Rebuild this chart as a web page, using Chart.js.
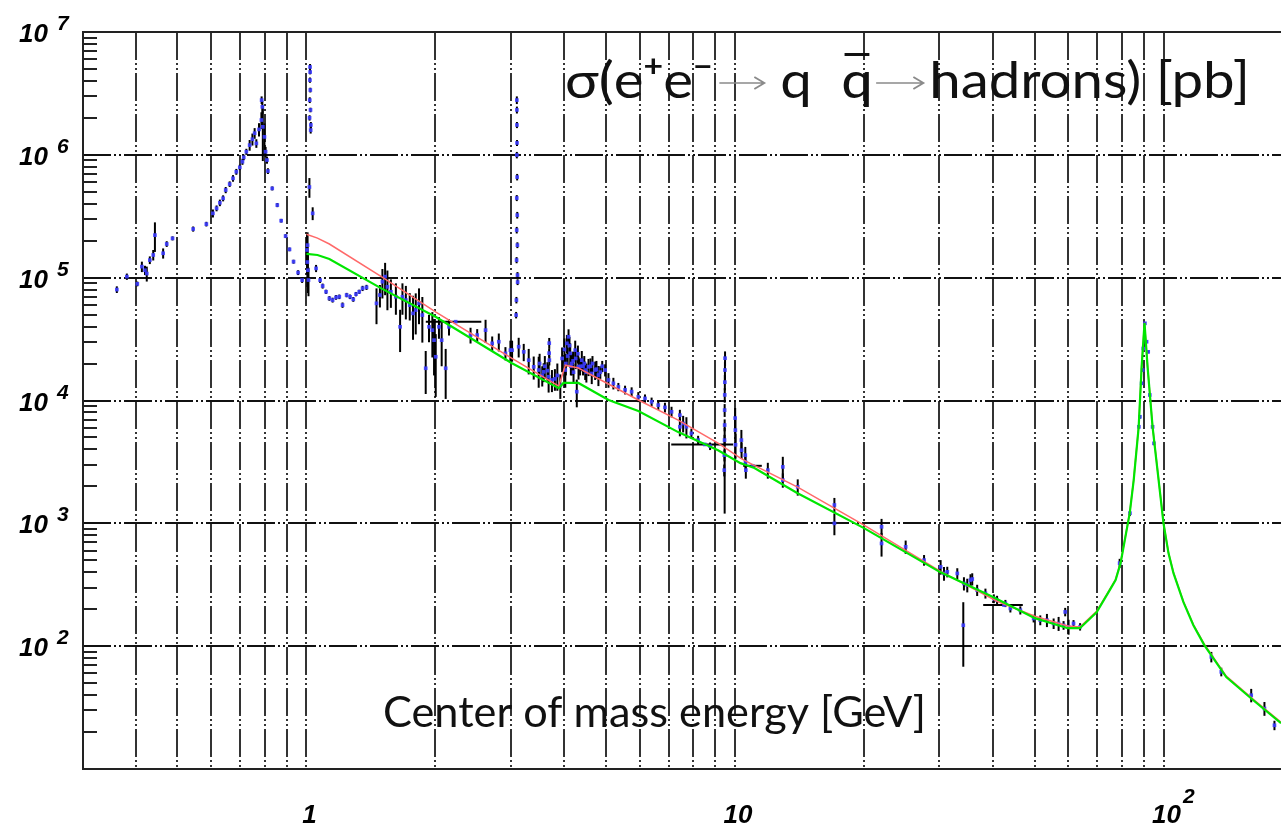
<!DOCTYPE html>
<html>
<head>
<meta charset="utf-8">
<script src="https://cdn.jsdelivr.net/npm/chart.js@4.4.0/dist/chart.umd.min.js"></script>
<style>
  html, body { margin: 0; padding: 0; background: #fff; }
  canvas { display: block; }
</style>
</head>
<body>
<canvas id="xsec" width="1285" height="829"></canvas>
<script>
// ----- measurements: energy [GeV], cross section [pb], error [pb] -----

// rho / omega region
const lowE = [0.361, 0.381, 0.403, 0.413, 0.420, 0.424, 0.431, 0.439, 0.443, 0.463,
  0.472, 0.487, 0.544, 0.584, 0.605, 0.617, 0.628, 0.639, 0.648, 0.662,
  0.674, 0.686, 0.699, 0.709, 0.714, 0.724, 0.737, 0.748, 0.757, 0.764,
  0.775, 0.785, 0.789, 0.786, 0.791, 0.798, 0.803, 0.809, 0.813, 0.832,
  0.855, 0.873, 0.894, 0.913, 0.933, 0.956, 0.977];
const lowSigma = [8.0e4, 1.02e5, 8.9e4, 1.23e5, 1.15e5, 1.08e5, 1.39e5, 1.53e5, 2.22e5, 1.58e5,
  1.88e5, 2.09e5, 2.49e5, 2.73e5, 3.34e5, 3.67e5, 4.07e5, 4.43e5, 5.17e5, 5.78e5,
  6.44e5, 7.28e5, 7.91e5, 8.79e5, 9.54e5, 1.06e6, 1.20e6, 1.34e6, 1.50e6, 1.24e6,
  1.61e6, 1.92e6, 2.46e6, 2.79e6, 1.69e6, 1.40e6, 1.06e6, 9.07e5, 7.38e5, 5.33e5,
  3.90e5, 2.91e5, 2.18e5, 1.70e5, 1.35e5, 1.10e5, 9.56e4];
const lowErr = [5e3, 6e3, 4e3, 1.2e4, 1e4, 1.5e4, 1e4, 1.5e4, 6e4, 1.5e4,
  1e4, 8e3, 1.2e4, 1.2e4, 2.5e4, 2e4, 2.5e4, 2.5e4, 3e4, 3e4,
  4e4, 4e4, 4e4, 5e4, 5e4, 6e4, 1.2e5, 1.5e5, 1.5e5, 1e5,
  2e5, 3e5, 3e5, 2e5, 8e5, 4e5, 1e5, 6e4, 4e4, 2e4,
  1.5e4, 1e4, 8e3, 6e3, 5e3, 5e3, 5e3];

// phi peak
const phiE = [1.003, 1.005, 1.006, 1.008, 1.011, 1.016, 1.017, 1.018, 1.019, 1.0195,
  1.020, 1.021, 1.022, 1.023, 1.024, 1.034];
const phiSigma = [1.68e5, 1.34e5, 1.84e5, 1.15e5, 9.56e4, 5.47e5, 2.0e6, 2.79e6, 4.06e6, 5.19e6,
  4.72e6, 3.37e6, 2.32e6, 1.59e6, 1.75e6, 3.34e5];
const phiErr = [6e4, 5e4, 5e4, 4e4, 2.5e4, 1e5, 1e5, 1.5e5, 2e5, 3e5,
  2e5, 1.5e5, 1e5, 1e5, 1e5, 4e4];

// 1 - 3 GeV
const midE = [1.053, 1.076, 1.091, 1.111, 1.131, 1.151, 1.172, 1.193, 1.214, 1.241,
  1.264, 1.286, 1.305, 1.328, 1.352, 1.381,
  1.457, 1.484, 1.504, 1.526, 1.545, 1.574, 1.617, 1.654, 1.675, 1.706,
  1.742, 1.773, 1.799, 1.831, 1.864, 1.898, 1.932, 1.967, 1.985, 2.003,
  2.038, 2.068, 2.113, 2.151,
  2.415, 2.503, 2.618, 2.713, 2.811, 2.913, 2.992];
const midSigma = [1.19e5, 9.56e4, 8.55e4, 7.68e4, 6.78e4, 6.57e4, 6.91e4, 6.99e4, 5.98e4, 7.22e4,
  6.99e4, 6.66e4, 7.35e4, 7.68e4, 8.18e4, 8.34e4,
  6.18e4, 7.22e4, 9.27e4, 1.02e5, 8.43e4, 7.68e4, 6.99e4, 3.98e4, 6.99e4, 6.57e4,
  5.98e4, 5.12e4, 5.45e4, 6.18e4, 4.96e4, 1.83e4, 3.98e4, 3.74e4, 3.10e4, 2.27e4,
  3.98e4, 3.10e4, 1.83e4, 3.98e4,
  3.41e4, 3.41e4, 3.74e4, 2.92e4, 3.01e4, 2.42e4, 2.57e4];
const midErr = [8e3, 5e3, 4e3, 3e3, 3e3, 3e3, 3e3, 3e3, 3e3, 3e3,
  3e3, 3e3, 3e3, 3e3, 4e3, 4e3,
  2e4, 1.5e4, 2.5e4, 3e4, 3e4, 2e4, 2e4, 1.5e4, 2e4, 2e4,
  1.5e4, 2e4, 2e4, 2e4, 2e4, 7e3, 1e4, 1.5e4, 1.5e4, 1.2e4,
  8e3, 1.2e4, 8e3, 6e3,
  5e3, 4e3, 8e3, 4e3, 5e3, 3e3, 5e3];

// J/psi and psi(2S)
const psiE = [3.085, 3.090, 3.093, 3.095, 3.096, 3.097, 3.097, 3.098, 3.099, 3.100,
  3.102, 3.104, 3.106, 3.108, 3.110, 3.684, 3.686, 3.688];
const psiSigma = [4.96e4, 6.57e4, 1.39e5, 2.44e5, 4.45e5, 9.96e5, 2.79e6, 2.32e6, 1.75e6, 1.25e6,
  6.59e5, 3.23e5, 1.84e5, 1.05e5, 9.2e4, 2.43e4, 2.93e4, 2.13e4];
const psiErr = [3e3, 4e3, 8e3, 1.5e4, 2.5e4, 6e4, 2e5, 1.5e5, 1e5, 7e4,
  4e4, 2e4, 1e4, 6e3, 5e3, 2e3, 3e3, 2e3];

// charm threshold region, 3 - 7.5 GeV
const charmE = [3.019, 3.128, 3.214, 3.301, 3.391, 3.483, 3.50, 3.55, 3.577, 3.60,
  3.65, 3.674, 3.740, 3.80, 3.85, 3.912, 3.95, 4.00, 4.018, 4.03,
  4.053, 4.07, 4.089, 4.11, 4.126, 4.14, 4.161, 4.19, 4.20, 4.238,
  4.25, 4.274, 4.30, 4.314, 4.35, 4.391, 4.42, 4.45, 4.472, 4.50,
  4.551, 4.60, 4.632, 4.65, 4.717, 4.75, 4.801, 4.85, 4.90, 4.977,
  5.067, 5.203, 5.344, 5.540, 5.739, 5.948, 6.166, 6.389, 6.622, 6.864,
  7.111, 7.437];
const charmSigma = [2.57e4, 2.74e4, 2.49e4, 2.13e4, 1.88e4, 1.77e4, 2.0e4, 1.6e4, 1.71e4, 1.9e4,
  1.75e4, 1.56e4, 1.47e4, 1.5e4, 1.6e4, 1.33e4, 2.2e4, 2.6e4, 1.77e4, 2.0e4,
  2.92e4, 2.3e4, 3.30e4, 2.8e4, 2.42e4, 1.9e4, 2.0e4, 2.1e4, 1.7e4, 2.57e4,
  2.2e4, 1.18e4, 2.4e4, 1.88e4, 1.9e4, 2.13e4, 1.9e4, 2.0e4, 1.77e4, 1.7e4,
  1.88e4, 1.9e4, 1.66e4, 2.0e4, 1.77e4, 1.8e4, 1.61e4, 1.7e4, 1.9e4, 1.77e4,
  1.47e4, 1.38e4, 1.29e4, 1.22e4, 1.18e4, 1.07e4, 1.04e4, 9.76e3, 9.17e3, 8.79e3,
  8.09e3, 7.6e3];
const charmErr = [5e3, 5e3, 4e3, 5e3, 4e3, 5e3, 4e3, 3e3, 3e3, 4e3,
  3e3, 4e3, 3e3, 3e3, 4e3, 3e3, 5e3, 6e3, 5e3, 4e3,
  5e3, 4e3, 5e3, 5e3, 5e3, 3e3, 4e3, 4e3, 3e3, 5e3,
  4e3, 3e3, 4e3, 4e3, 3e3, 4e3, 3e3, 3e3, 3e3, 3e3,
  3e3, 3e3, 3e3, 3e3, 3e3, 3e3, 3e3, 2e3, 2e3, 2e3,
  2e3, 1.5e3, 1e3, 1e3, 1e3, 1e3, 8e2, 8e2, 8e2, 8e2,
  8e2, 8e2];

// Upsilon region, 7.5 - 13 GeV
const upsE = [7.437, 7.569, 7.703, 7.913, 8.203, 8.747, 9.44, 9.45, 9.455, 9.46,
  9.46, 9.465, 9.47, 9.475, 9.48, 9.46, 10.01, 10.02, 10.03, 10.35,
  10.36, 10.57, 10.58, 10.60, 11.93, 12.93, 12.93];
const upsSigma = [6.11e3, 6.5e3, 6.11e3, 5.40e3, 4.76e3, 4.25e3, 2.71e3, 3.59e3, 4.76e3, 6.31e3,
  8.35e3, 1.11e4, 1.41e4, 1.77e4, 2.21e4, 3.6e3, 7.19e3, 5.74e3, 4.36e3, 4.76e3,
  3.94e3, 3.59e3, 3.15e3, 2.71e3, 2.71e3, 2.88e3, 2.25e3];
const upsErr = [1e3, 1e3, 1.2e3, 5e2, 4e2, 3e2, 3e2, 4e2, 5e2, 7e2,
  1e3, 1.5e3, 2e3, 3e3, 3e3, 2.4e3, 1.5e3, 1.2e3, 1e3, 1e3,
  6e2, 6e2, 4e2, 4e2, 4e2, 6e2, 3e2];

// PEP / PETRA / TRISTAN, 14 - 64 GeV
const highE = [14.01, 17.06, 17.06, 21.98, 21.98, 25.02, 27.62, 30.19, 30.74, 31.29,
  33.02, 34.22, 34.1, 34.84, 35.45, 35.78, 36.74, 38.41, 40.18, 40.89,
  42.76, 43.92, 46.33, 49.77, 51.57, 53.45, 55.41, 56.91, 58.45, 58.96,
  60.04, 61.66, 63.87];
const highSigma = [1.98e3, 1.41e3, 1.0e3, 937, 686, 644, 502, 442, 391, 403,
  391, 324, 148, 314, 345, 352, 286, 269, 244, 237,
  223, 203, 196, 168, 163, 163, 153, 153, 148, 190,
  144, 153, 144];
const highErr = [300, 200, 200, 150, 150, 80, 50, 60, 50, 40,
  40, 40, 80, 40, 40, 40, 30, 25, 20, 20,
  15, 15, 15, 12, 15, 20, 15, 20, 12, 15,
  20, 10, 10];

// Z pole and LEP2
const zE = [79.0, 83.5, 87.6, 88.1, 88.9, 89.4, 89.7, 90.5, 91.3, 92.1,
  92.9, 94.3, 95.0, 129.3, 136.4, 160.2, 172.0, 181.5];
const zSigma = [474, 1.21e3, 6.11e3, 7.37e3, 1.38e4, 1.77e4, 2.65e4, 4.25e4, 3.01e4, 2.49e4,
  1.11e4, 6.11e3, 4.48e3, 81.8, 61.8, 39.9, 31.1, 22.7];
const zErr = [40, 60, 200, 250, 400, 500, 700, 1000, 800, 700,
  300, 200, 150, 8, 5, 5, 4, 2];

// points quoted over a wide energy bin
const binE = [2.229, 8.50, 11.0, 42.45];
const binSigma = [4.38e4, 4.39e3, 2.94e3, 216];
const binHalfWidth = [0.33, 1.4, 0.55, 4.5];

// ----- curves -----
const redE = [1.0, 1.061, 1.131, 1.502, 2.005, 3.01, 3.88, 4.02, 4.31, 5.95,
  7.37, 9.13, 10.3, 10.6, 14.0, 20.0, 30.1, 40.9, 50.1, 59.8,
  63.8, 69.8, 74.9, 77.3, 79.4, 83.4, 85.2, 87.5, 88.9, 90.3,
  91.8, 94.3, 97.4, 100.0, 102.7, 105.5, 111.3, 117.4, 124.5, 140.1,
  162.0, 188.0];
const redSigma = [2.26e5, 2.10e5, 1.88e5, 1.01e5, 5.25e4, 2.21e4, 1.31e4, 1.94e4, 1.84e4, 1.01e4,
  6.92e3, 4.50e3, 3.40e3, 3.21e3, 1.97e3, 966, 408, 232, 175, 146,
  143, 192, 290, 350, 480, 1.22e3, 2.28e3, 6.15e3, 1.89e4, 4.3e4,
  1.89e4, 6.15e3, 2.28e3, 1.01e3, 580, 398, 231, 150, 104, 57,
  37, 24];

const greenE = [1.0, 1.061, 1.131, 1.502, 2.005, 3.01, 3.88, 3.98, 4.31, 5.07,
  5.95, 7.37, 9.13, 10.3, 10.6, 11.1, 14.0, 20.0, 30.1, 40.0,
  50.1, 59.8, 63.8, 69.8, 74.9, 77.3, 79.4, 83.4, 85.2, 87.5,
  88.9, 90.3, 91.8, 94.3, 97.4, 100.0, 102.7, 105.5, 111.3, 117.4,
  124.5, 140.1, 162.0, 188.0];
const greenSigma = [1.56e5, 1.53e5, 1.42e5, 8.1e4, 4.78e4, 2.02e4, 1.26e4, 1.39e4, 1.39e4, 1.01e4,
  8.2e3, 5.53e3, 3.94e3, 3.09e3, 2.98e3, 2.82e3, 1.76e3, 914, 401, 251,
  169, 140, 140, 189, 286, 345, 474, 1.21e3, 2.25e3, 6.07e3,
  1.87e4, 4.27e4, 1.87e4, 6.07e3, 2.25e3, 1.0e3, 572, 393, 228, 148,
  102, 56, 36.3, 23.6];

// ----- axes -----
const xGridValues = [0.4, 0.5, 0.6, 0.7, 0.8, 0.9, 1, 2, 3, 4, 5, 6, 7, 8, 9,
  10, 20, 30, 40, 50, 60, 70, 80, 90, 100];
const yDecadeValues = [1e2, 1e3, 1e4, 1e5, 1e6];
const yLabelValues = [1e7, 1e6, 1e5, 1e4, 1e3, 1e2];
const xLabelValues = [1, 10, 100];
const xLabelTexts = [['1', ''], ['10', ''], ['10', '2']];

const titleText = 'Center of mass energy [GeV]';

function toXY(xs, ys) {
  return xs.map((x, i) => ({ x: x, y: ys[i] }));
}

// merge the measurement groups into one dataset
const groups = [
  [lowE, lowSigma, lowErr],
  [phiE, phiSigma, phiErr],
  [midE, midSigma, midErr],
  [psiE, psiSigma, psiErr],
  [charmE, charmSigma, charmErr],
  [upsE, upsSigma, upsErr],
  [highE, highSigma, highErr],
  [zE, zSigma, zErr]
];
const points = [];
const pointErr = [];
groups.forEach(g => {
  g[0].forEach((e, i) => {
    points.push({ x: e, y: g[1][i] });
    pointErr.push(g[2][i]);
  });
});

const GRID_DASH = [28, 3, 2, 3, 2, 3];
const TEXT_FACE = 'Lato, "Open Sans", "Liberation Sans", sans-serif';
const LABEL_FACE = '"Liberation Sans", Arial, sans-serif';

// dashed grid, frame and inner ticks
const rootFrame = {
  id: 'rootFrame',
  beforeDatasetsDraw(chart) {
    const { ctx, chartArea: a, scales: { x, y } } = chart;
    ctx.save();
    ctx.lineWidth = 2;
    ctx.setLineDash(GRID_DASH);
    ctx.strokeStyle = '#333';
    xGridValues.forEach(v => {
      const px = Math.round(x.getPixelForValue(v));
      ctx.beginPath();
      ctx.moveTo(px, a.top);
      ctx.lineTo(px, a.bottom);
      ctx.stroke();
    });
    ctx.strokeStyle = '#111';
    yDecadeValues.forEach(v => {
      const py = Math.round(y.getPixelForValue(v));
      ctx.beginPath();
      ctx.moveTo(a.left, py);
      ctx.lineTo(a.right, py);
      ctx.stroke();
    });
    ctx.setLineDash([]);

    // minor ticks on the left axis
    ctx.strokeStyle = '#222';
    for (let d = 1e1; d < 1e7; d *= 10) {
      for (let k = 2; k <= 9; k++) {
        const py = Math.round(y.getPixelForValue(k * d));
        ctx.beginPath();
        ctx.moveTo(a.left, py);
        ctx.lineTo(a.left + 14, py);
        ctx.stroke();
      }
    }

    // frame
    ctx.strokeStyle = '#222';
    ctx.beginPath();
    ctx.moveTo(a.right, a.top);
    ctx.lineTo(a.left, a.top);
    ctx.lineTo(a.left, a.bottom);
    ctx.lineTo(a.right, a.bottom);
    ctx.stroke();
    ctx.restore();
  }
};

// vertical and horizontal error bars
const errorBars = {
  id: 'errorBars',
  beforeDatasetsDraw(chart) {
    const { ctx, chartArea: a, scales: { x, y } } = chart;
    ctx.save();
    ctx.beginPath();
    ctx.rect(a.left, a.top, a.right - a.left, a.bottom - a.top);
    ctx.clip();
    ctx.strokeStyle = '#000';
    ctx.lineWidth = 2;
    chart.data.datasets.forEach(ds => {
      if (!ds.yErr && !ds.xErr) return;
      ds.data.forEach((p, i) => {
        const px = x.getPixelForValue(p.x);
        const py = y.getPixelForValue(p.y);
        if (ds.yErr) {
          const e = ds.yErr[i];
          const lo = Math.max(p.y - e, p.y * 0.05);
          ctx.beginPath();
          ctx.moveTo(px, y.getPixelForValue(p.y + e));
          ctx.lineTo(px, y.getPixelForValue(lo));
          ctx.stroke();
        }
        if (ds.xErr) {
          const w = ds.xErr[i];
          ctx.beginPath();
          ctx.moveTo(x.getPixelForValue(p.x - w), py);
          ctx.lineTo(x.getPixelForValue(p.x + w), py);
          ctx.stroke();
        }
      });
    });
    ctx.restore();
  }
};

function drawArrow(ctx, x0, len, yMid) {
  ctx.save();
  ctx.strokeStyle = '#8a8a8a';
  ctx.lineWidth = 1.6;
  ctx.beginPath();
  ctx.moveTo(x0, yMid);
  ctx.lineTo(x0 + len, yMid);
  ctx.moveTo(x0 + len - 9, yMid - 6);
  ctx.lineTo(x0 + len, yMid);
  ctx.lineTo(x0 + len - 9, yMid + 6);
  ctx.stroke();
  ctx.restore();
}

// sigma(e+e- -> q qbar -> hadrons) [pb], laid out piece by piece
function drawProcessLabel(ctx) {
  const F = 50;
  const big = F + 'px ' + TEXT_FACE;
  const sup = 'bold ' + Math.round(F * 0.6) + 'px ' + TEXT_FACE;
  const pieces = [
    { t: 'σ(e', font: big },
    { t: '+', font: sup, dy: -0.42 * F },
    { t: 'e', font: big },
    { t: '−', font: sup, dy: -0.42 * F },
    { gap: 6 },
    { arrow: 40 },
    { gap: 14 },
    { t: 'q', font: big },
    { gap: 26 },
    { t: 'q', font: big, bar: true },
    { gap: 3 },
    { arrow: 42 },
    { gap: 5 },
    { t: 'hadrons) [pb]', font: big }
  ];
  let total = 0;
  pieces.forEach(p => {
    if (p.t) { ctx.font = p.font; p.w = ctx.measureText(p.t).width; }
    else p.w = p.gap || p.arrow;
    total += p.w;
  });
  const left = 565, right = 1250, baseline = 98;
  ctx.save();
  ctx.translate(left, baseline);
  ctx.scale((right - left) / total, 1);
  ctx.fillStyle = '#111';
  ctx.textBaseline = 'alphabetic';
  ctx.textAlign = 'left';
  let cx = 0;
  pieces.forEach(p => {
    if (p.t) {
      ctx.font = p.font;
      ctx.fillText(p.t, cx, p.dy || 0);
      if (p.bar) {
        ctx.fillRect(cx + 3, -0.9 * F, p.w - 6, 3);
      }
    } else if (p.arrow) {
      drawArrow(ctx, cx, p.arrow, -0.3 * F);
    }
    cx += p.w;
  });
  ctx.restore();
}

// axis labels and the two captions
const rootText = {
  id: 'rootText',
  afterDraw(chart) {
    const { ctx, scales: { x, y } } = chart;
    ctx.save();
    ctx.fillStyle = '#000';
    ctx.textBaseline = 'alphabetic';

    yLabelValues.forEach(v => {
      const py = y.getPixelForValue(v);
      ctx.font = 'italic bold 26px ' + LABEL_FACE;
      ctx.textAlign = 'right';
      ctx.fillText('10', 48, py + 10);
      ctx.font = 'italic bold 21px ' + LABEL_FACE;
      ctx.textAlign = 'left';
      ctx.fillText(String(Math.round(Math.log10(v))), 57, py - 2);
    });

    xLabelValues.forEach((v, i) => {
      const px = x.getPixelForValue(v);
      const [base, exp] = xLabelTexts[i];
      ctx.font = 'italic bold 26px ' + LABEL_FACE;
      ctx.textAlign = 'center';
      ctx.fillText(base, px + 3, 823);
      if (exp) {
        const w = ctx.measureText(base).width;
        ctx.font = 'italic bold 21px ' + LABEL_FACE;
        ctx.textAlign = 'left';
        ctx.fillText(exp, px + 3 + w / 2 + 2, 803);
      }
    });

    // caption for the energy axis, inside the frame
    ctx.font = '42px ' + TEXT_FACE;
    const w = ctx.measureText(titleText).width;
    ctx.save();
    ctx.translate(383, 727);
    ctx.scale(543 / w, 1);
    ctx.textAlign = 'left';
    ctx.fillStyle = '#111';
    ctx.fillText(titleText, 0, 0);
    ctx.restore();

    drawProcessLabel(ctx);
    ctx.restore();
  }
};

new Chart(document.getElementById('xsec'), {
  type: 'scatter',
  data: {
    datasets: [
      {
        label: 'fit',
        data: toXY(greenE, greenSigma),
        showLine: true,
        borderColor: 'rgb(0, 230, 0)',
        borderWidth: 2.2,
        pointRadius: 0,
        order: 0
      },
      {
        label: 'parametrisation',
        data: toXY(redE, redSigma),
        showLine: true,
        borderColor: 'rgb(255, 105, 105)',
        borderWidth: 1.5,
        pointRadius: 0,
        order: 1
      },
      {
        label: 'data',
        data: points,
        yErr: pointErr,
        pointStyle: 'rect',
        pointRadius: 2.6,
        backgroundColor: 'rgba(60, 60, 255, 0.9)',
        borderWidth: 0,
        order: 2
      },
      {
        label: 'wide bins',
        data: toXY(binE, binSigma),
        xErr: binHalfWidth,
        pointStyle: 'rect',
        pointRadius: 2.6,
        backgroundColor: 'rgba(60, 60, 255, 0.9)',
        borderWidth: 0,
        order: 3
      }
    ]
  },
  options: {
    responsive: false,
    animation: false,
    devicePixelRatio: 1,
    events: [],
    layout: { padding: { top: 32, left: 0, right: 0, bottom: 0 } },
    plugins: { legend: { display: false }, tooltip: { enabled: false } },
    scales: {
      x: {
        type: 'logarithmic',
        min: 0.301,
        max: 188,
        bounds: 'data',
        grid: { display: false },
        border: { display: false },
        ticks: { display: false },
        afterFit: s => { s.height = 60; }
      },
      y: {
        type: 'logarithmic',
        min: 10,
        max: 1e7,
        bounds: 'data',
        grid: { display: false },
        border: { display: false },
        ticks: { display: false },
        afterFit: s => { s.width = 83; }
      }
    }
  },
  plugins: [rootFrame, errorBars, rootText]
});
</script>
</body>
</html>
